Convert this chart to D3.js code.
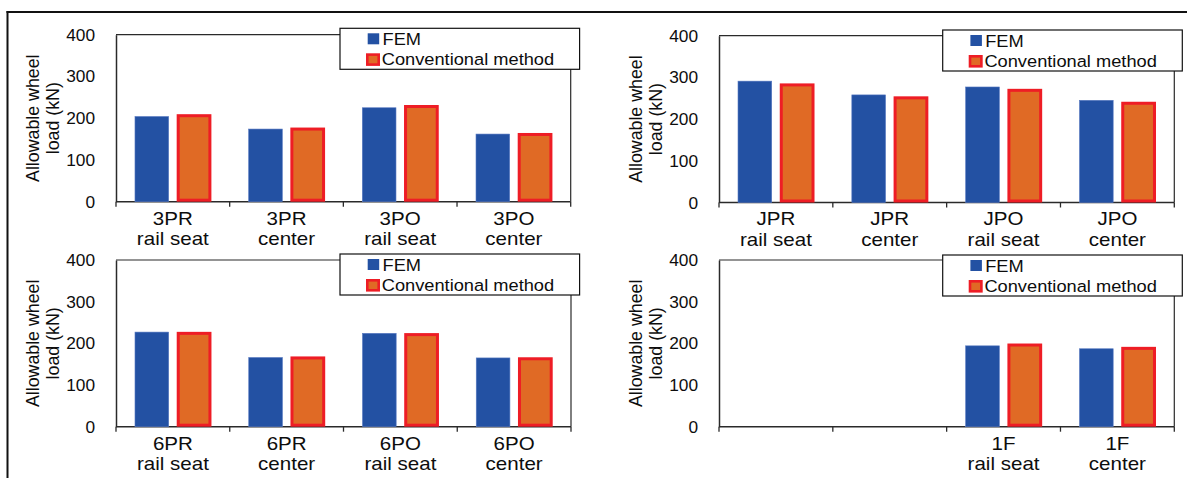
<!DOCTYPE html>
<html>
<head>
<meta charset="utf-8">
<script src="https://cdn.jsdelivr.net/npm/d3@7"></script>
<style>
  html, body { margin: 0; padding: 0; background: #fff; }
  svg { display: block; font-family: "Liberation Sans", Arial, sans-serif; }
</style>
</head>
<body>
<svg id="chart" width="1194" height="478"></svg>
<script>
// ---------- data ----------
const seriesNames = ["FEM", "Conventional method"];
const yTicks = [0, 100, 200, 300, 400];
const yTitle = ["Allowable wheel", "load (kN)"];

const categories3P = ["3PR\nrail seat", "3PR\ncenter", "3PO\nrail seat", "3PO\ncenter"];
const fem3P = [204, 174, 225, 162];
const conv3P = [206, 174, 228, 161];

const categoriesJP = ["JPR\nrail seat", "JPR\ncenter", "JPO\nrail seat", "JPO\ncenter"];
const femJP = [291, 258, 277, 245];
const convJP = [282, 251, 269, 238];

const categories6P = ["6PR\nrail seat", "6PR\ncenter", "6PO\nrail seat", "6PO\ncenter"];
const fem6P = [227, 166, 224, 165];
const conv6P = [224, 165, 221, 163];

const categories1F = ["", "", "1F\nrail seat", "1F\ncenter"];
const fem1F = [null, null, 194, 187];
const conv1F = [null, null, 196, 188];

// ---------- layout ----------
const panels = [
  { cats: categories3P, fem: fem3P, conv: conv3P, x0: 116, x1: 570.7, y0: 201.7, y1: 34.7, legX: 340, legY: 28.3 },
  { cats: categoriesJP, fem: femJP, conv: convJP, x0: 719, x1: 1174.3, y0: 202.5, y1: 35.7, legX: 942.7, legY: 30 },
  { cats: categories6P, fem: fem6P, conv: conv6P, x0: 116, x1: 571, y0: 426.7, y1: 260, legX: 340, legY: 254 },
  { cats: categories1F, fem: fem1F, conv: conv1F, x0: 719, x1: 1174.3, y0: 426.7, y1: 260, legX: 942.7, legY: 255 }
];

const COL_FEM = "#2351a3";
const COL_FEM_EDGE = "#5577c0";
const COL_CONV = "#e06a25";
const COL_CONV_EDGE = "#ee1d25";
const AXIS = "#2a2a2a";
const TXT = "#0d0d0d";
const STRETCH = 1.13;   // the reference text is slightly wide

const svg = d3.select("#chart");
svg.append("rect").attr("width", 1194).attr("height", 478).attr("fill", "#fff");

// outer frame
svg.append("line").attr("x1", 6.5).attr("x2", 1187).attr("y1", 12).attr("y2", 12)
  .attr("stroke", "#111").attr("stroke-width", 2);
svg.append("line").attr("x1", 7.5).attr("x2", 7.5).attr("y1", 11).attr("y2", 478)
  .attr("stroke", "#111").attr("stroke-width", 2);

panels.forEach(p => {
  const g = svg.append("g");
  const idx = d3.range(p.cats.length);
  const x = d3.scaleBand().domain(idx).range([p.x0, p.x1]).paddingInner(0).paddingOuter(0);
  const y = d3.scaleLinear().domain([0, 400]).range([p.y0, p.y1]);
  const bw = x.bandwidth();

  // plot frame (top + right)
  g.append("line").attr("x1", p.x0).attr("x2", p.x1).attr("y1", y(400)).attr("y2", y(400))
    .attr("stroke", AXIS).attr("stroke-width", 1.2);
  g.append("line").attr("x1", p.x1).attr("x2", p.x1).attr("y1", y(400)).attr("y2", y(0))
    .attr("stroke", AXIS).attr("stroke-width", 1.2);

  // y axis
  const yAxis = d3.axisLeft(y).tickValues(yTicks).tickSize(0).tickPadding(21);
  const ya = g.append("g").attr("transform", `translate(${p.x0},0)`).call(yAxis);
  ya.select(".domain").attr("stroke", AXIS).attr("stroke-width", 1.5);
  ya.selectAll("text").attr("font-size", 17.3).attr("fill", TXT)
    .attr("font-family", "'Liberation Sans', Arial, sans-serif");

  // x axis with ticks at band boundaries
  const xa = g.append("g");
  xa.append("line").attr("x1", p.x0).attr("x2", p.x1).attr("y1", y(0)).attr("y2", y(0))
    .attr("stroke", AXIS).attr("stroke-width", 1.5);
  const bounds = idx.map(i => x(i)).concat([p.x1]);
  xa.selectAll(".tk").data(bounds).join("line")
    .attr("x1", d => d).attr("x2", d => d).attr("y1", y(0)).attr("y2", y(0) + 5)
    .attr("stroke", AXIS).attr("stroke-width", 1.3);
  const lblG = xa.selectAll(".cl").data(idx.filter(i => p.cats[i])).join("g")
    .attr("transform", i => `translate(${x(i) + bw / 2},${y(0) + 22.8}) scale(${STRETCH},1)`);
  lblG.each(function(i) {
    const lines = p.cats[i].split("\n");
    const gg = d3.select(this);
    lines.forEach((ln, k) => {
      gg.append("text").attr("x", 0).attr("y", k * 20.5)
        .attr("text-anchor", "middle").attr("font-size", 18.2).attr("fill", TXT).text(ln);
    });
  });

  // bars
  const femData = idx.filter(i => p.fem[i] != null);
  g.selectAll(".fem").data(femData).join("rect")
    .attr("x", i => x(i) + bw * 0.167)
    .attr("width", bw * 0.296)
    .attr("y", i => y(p.fem[i]))
    .attr("height", i => y(0) - y(p.fem[i]))
    .attr("fill", COL_FEM).attr("stroke", COL_FEM_EDGE).attr("stroke-width", 0.6);
  const convData = idx.filter(i => p.conv[i] != null);
  g.selectAll(".conv").data(convData).join("rect")
    .attr("x", i => x(i) + bw * 0.547)
    .attr("width", bw * 0.279)
    .attr("y", i => y(p.conv[i]))
    .attr("height", i => y(0) - y(p.conv[i]) - 1.5)
    .attr("fill", COL_CONV).attr("stroke", COL_CONV_EDGE).attr("stroke-width", 3);

  // legend
  const lg = g.append("g").attr("transform", `translate(${p.legX},${p.legY})`);
  lg.append("rect").attr("x", 0).attr("y", 0).attr("width", 239.6).attr("height", 41)
    .attr("fill", "#fff").attr("stroke", "#111").attr("stroke-width", 1.2);
  lg.append("rect").attr("x", 27.7).attr("y", 5).attr("width", 11.5).attr("height", 11)
    .attr("fill", COL_FEM);
  lg.append("rect").attr("x", 27.3).attr("y", 26.3).attr("width", 11.4).attr("height", 10)
    .attr("fill", COL_CONV).attr("stroke", COL_CONV_EDGE).attr("stroke-width", 2.6);
  lg.selectAll(".lt").data(seriesNames).join("g")
    .attr("transform", (d, k) => `translate(${k === 0 ? 42.5 : 41.7},${k === 0 ? 16.5 : 36.5}) scale(1.1,1)`)
    .append("text").attr("x", 0).attr("y", 0)
    .attr("font-size", 16.6).attr("fill", TXT).text(d => d);

  // y title
  const cy = (y(0) + y(400)) / 2;
  const tt = g.append("text").attr("transform", `translate(${p.x0 - 77},${cy}) rotate(-90)`)
    .attr("text-anchor", "middle").attr("font-size", 17.8).attr("fill", TXT);
  tt.append("tspan").attr("x", 0).attr("y", 0).text(yTitle[0]);
  tt.append("tspan").attr("x", 0).attr("y", 20).text(yTitle[1]);
});
</script>
</body>
</html>
